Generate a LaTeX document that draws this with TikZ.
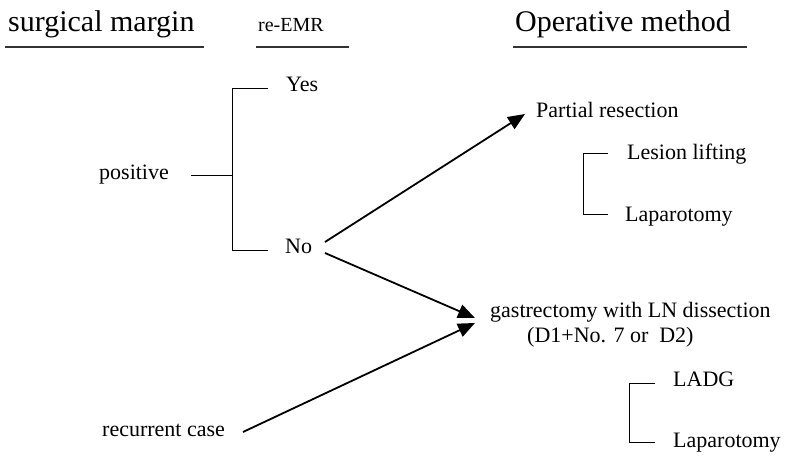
\documentclass[tikz,border=0pt]{standalone}
\usepackage{fontspec}
\setmainfont{Liberation Serif}
\usetikzlibrary{arrows.meta}
\begin{document}
\begin{tikzpicture}[x=1pt,y=-1pt,
  big/.style={font=\fontsize{30}{34}\selectfont,anchor=base west,inner sep=0pt},
  mid/.style={font=\fontsize{20}{24}\selectfont,anchor=base west,inner sep=0pt},
  lbl/.style={font=\fontsize{22}{25}\selectfont,anchor=base west,inner sep=0pt},
  uline/.style={line width=1.6pt,black!80},
  brk/.style={line width=0.9pt},
  arr/.style={line width=1.8pt,-{Triangle[length=17pt,width=14pt]}}]
\useasboundingbox (0,0) rectangle (788,457);
% headers
\node[big] (sm) at (8,32) {surgical margin};
\node[mid] (re) at (258,32) {re-EMR};
\node[big] (om) at (515,32) {Operative method};
\draw[uline] (5,47) coordinate (u1a) -- (204,47) coordinate (u1b);
\draw[uline] (256,47) coordinate (u2a) -- (349,47) coordinate (u2b);
\draw[uline] (513,47) coordinate (u3a) -- (747,47) coordinate (u3b);
% left column
\node[lbl] (pos) at (99,180) {positive};
\node[lbl] (yes) at (286,92) {Yes};
\node[lbl] (no) at (285,254) {No};
\node[lbl] (rec) at (102,436) {recurrent case};
% bracket
\coordinate (bt) at (232,88);
\coordinate (bb) at (232,250);
\coordinate (bm) at (232,175);
\draw[brk] (268,88) -- (bt) -- (bb) -- (268,250);
\draw[brk] (191,175) -- (bm);
% right column
\node[lbl] (pr) at (536,118) {Partial resection};
\node[lbl] (ll) at (627,160) {Lesion lifting};
\node[lbl] (lap1) at (625,222) {Laparotomy};
\draw[brk] (608,153) -- (583,153) -- (583,214) -- (608,214);
\node[lbl] (ga) at (490,318) {gastrectomy with LN dissection};
\node[lbl] (d1) at (527,343) {(D1+No. 7 or\ \ D2)};
\node[lbl] (ladg) at (673,387) {LADG};
\node[lbl] (lap2) at (673,447) {Laparotomy};
\draw[brk] (655,383) -- (629,383) -- (629,442) -- (655,442);
% arrows
\coordinate (noA) at (325,242);
\coordinate (noB) at (325,253);
\coordinate (prT) at (525,114);
\coordinate (gaT1) at (475,318);
\coordinate (gaT2) at (475,323);
\coordinate (recS) at (243,432);
\draw[arr] (noA) -- (prT);
\draw[arr] (noB) -- (gaT1);
\draw[arr] (recS) -- (gaT2);
\end{tikzpicture}
\end{document}
